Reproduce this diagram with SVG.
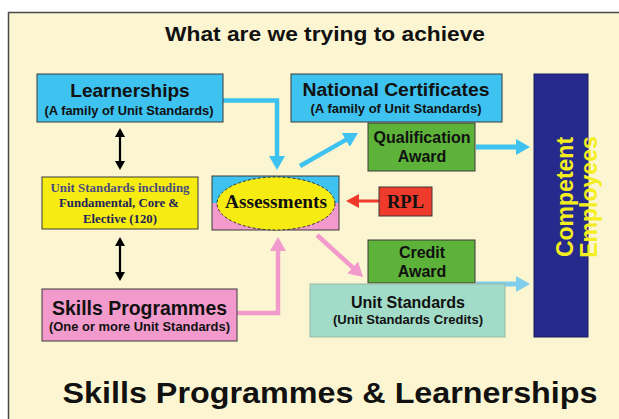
<svg xmlns="http://www.w3.org/2000/svg" width="619" height="419" viewBox="0 0 619 419">
  <style>
    .sans { font-family: "Liberation Sans", Arial, sans-serif; font-weight: bold; fill: #111; text-anchor: middle; }
    .serif { font-family: "Liberation Serif", "Times New Roman", serif; font-weight: bold; text-anchor: middle; }
    .box { stroke: #3a3a3a; stroke-width: 1; }
    .blue { fill: #3EC2EF; }
    .green { fill: #5DB33A; }
    .pink { fill: #F29ACB; }
    .conn { fill: none; }
  </style>
  <defs>
    <marker id="head-blue" viewBox="0 0 14 16" markerWidth="14" markerHeight="16" refX="1" refY="8" orient="auto" markerUnits="userSpaceOnUse">
      <path d="M0,0 L14,8 L0,16 z" fill="#3EC2EF"/>
    </marker>
    <marker id="head-lightblue" viewBox="0 0 14 16" markerWidth="14" markerHeight="16" refX="1" refY="8" orient="auto" markerUnits="userSpaceOnUse">
      <path d="M0,0 L14,8 L0,16 z" fill="#7FCFEC"/>
    </marker>
    <marker id="head-pink" viewBox="0 0 14 16" markerWidth="14" markerHeight="16" refX="1" refY="8" orient="auto" markerUnits="userSpaceOnUse">
      <path d="M0,0 L14,8 L0,16 z" fill="#F29ACB"/>
    </marker>
    <marker id="head-red" viewBox="0 0 13 14" markerWidth="13" markerHeight="14" refX="1" refY="7" orient="auto" markerUnits="userSpaceOnUse">
      <path d="M0,0 L13,7 L0,14 z" fill="#EE3B2B"/>
    </marker>
    <marker id="head-black" viewBox="0 0 9 10" markerWidth="9" markerHeight="10" refX="1" refY="5" orient="auto-start-reverse" markerUnits="userSpaceOnUse">
      <path d="M0,0 L9,5 L0,10 z" fill="#000"/>
    </marker>
  </defs>

  <!-- page -->
  <rect x="0" y="0" width="619" height="419" fill="#ffffff"/>
  <rect x="8.5" y="12.5" width="620" height="420" fill="#FBF6D1" stroke="#4a4a4a" stroke-width="1.5"/>

  <text class="sans" x="325" y="41" font-size="20" textLength="320" lengthAdjust="spacingAndGlyphs">What are we trying to achieve</text>

  <!-- connectors -->
  <g id="connectors">
    <path class="conn" d="M223,100.5 H277 V157" stroke="#3EC2EF" stroke-width="4.5" marker-end="url(#head-blue)"/>
    <path class="conn" d="M300,166 L346.7,139.4" stroke="#3EC2EF" stroke-width="4.5" marker-end="url(#head-blue)"/>
    <path class="conn" d="M476,147 H517" stroke="#3EC2EF" stroke-width="5" marker-end="url(#head-blue)"/>
    <path class="conn" d="M476,284 H517" stroke="#7FCFEC" stroke-width="5" marker-end="url(#head-lightblue)"/>
    <path class="conn" d="M379,201 H358" stroke="#EE3B2B" stroke-width="3" marker-end="url(#head-red)"/>
    <path class="conn" d="M237,313 H278 V250" stroke="#F29ACB" stroke-width="4.5" marker-end="url(#head-pink)"/>
    <path class="conn" d="M317,235 L353.4,268.2" stroke="#F29ACB" stroke-width="4.5" marker-end="url(#head-pink)"/>
    <path class="conn" d="M120,136 V162" stroke="#000" stroke-width="2.2" marker-start="url(#head-black)" marker-end="url(#head-black)"/>
    <path class="conn" d="M120,245 V273" stroke="#000" stroke-width="2.2" marker-start="url(#head-black)" marker-end="url(#head-black)"/>
  </g>

  <g id="learnerships">
    <rect class="box blue" x="37" y="74" width="186" height="48"/>
    <text class="sans" x="130" y="97" font-size="19">Learnerships</text>
    <text class="sans" x="129" y="115" font-size="12.5" textLength="169" lengthAdjust="spacingAndGlyphs">(A family of Unit Standards)</text>
  </g>

  <g id="national-certificates">
    <rect class="box blue" x="291" y="74" width="211" height="48"/>
    <text class="sans" x="396" y="96" font-size="19" textLength="187" lengthAdjust="spacingAndGlyphs">National Certificates</text>
    <text class="sans" x="396" y="113" font-size="13" textLength="171" lengthAdjust="spacingAndGlyphs">(A family of Unit Standards)</text>
  </g>

  <g id="qualification-award">
    <rect class="box green" x="368" y="123" width="107" height="48"/>
    <text class="sans" x="422" y="143" font-size="16" textLength="97" lengthAdjust="spacingAndGlyphs">Qualification</text>
    <text class="sans" x="422" y="162" font-size="16">Award</text>
  </g>

  <g id="unit-standards-including">
    <rect class="box" x="42" y="177" width="156" height="52" fill="#F7EC12"/>
    <text class="serif" x="120" y="192" font-size="13" fill="#4a4a80" textLength="139" lengthAdjust="spacingAndGlyphs">Unit Standards including</text>
    <text class="serif" x="119" y="207" font-size="13" fill="#23235a" textLength="120" lengthAdjust="spacingAndGlyphs">Fundamental, Core &amp;</text>
    <text class="serif" x="120" y="223" font-size="13" fill="#23235a" textLength="74" lengthAdjust="spacingAndGlyphs">Elective (120)</text>
  </g>

  <g id="assessments">
    <rect x="212" y="176" width="127" height="27" class="blue"/>
    <rect x="212" y="203" width="127" height="27" class="pink"/>
    <rect x="212" y="176" width="127" height="54" fill="none" stroke="#3a3a3a" stroke-width="1"/>
    <ellipse cx="276" cy="203.5" rx="59" ry="26.5" fill="#F7EC12" stroke="#333" stroke-width="1" stroke-dasharray="3 2"/>
    <text class="serif" x="276" y="208" font-size="18" fill="#111" textLength="102" lengthAdjust="spacingAndGlyphs">Assessments</text>
  </g>

  <g id="rpl">
    <rect class="box" x="379" y="187" width="53" height="29" fill="#EE3B2B"/>
    <text class="serif" x="405.5" y="208" font-size="18" fill="#111" textLength="37" lengthAdjust="spacingAndGlyphs">RPL</text>
  </g>

  <g id="credit-award">
    <rect class="box green" x="368" y="240" width="107" height="43"/>
    <text class="sans" x="422" y="258" font-size="16">Credit</text>
    <text class="sans" x="422" y="277" font-size="16">Award</text>
  </g>

  <g id="unit-standards-credits">
    <rect x="310" y="284" width="195" height="53" fill="#A2DCC8" stroke="#9ab8aa" stroke-width="1"/>
    <text class="sans" x="408" y="308" font-size="16" textLength="114" lengthAdjust="spacingAndGlyphs">Unit Standards</text>
    <text class="sans" x="408" y="324" font-size="12.5" textLength="150" lengthAdjust="spacingAndGlyphs">(Unit Standards Credits)</text>
  </g>

  <g id="skills-programmes">
    <rect class="box pink" x="42" y="289" width="195" height="52"/>
    <text class="sans" x="139.5" y="315" font-size="19.5" textLength="175" lengthAdjust="spacingAndGlyphs">Skills Programmes</text>
    <text class="sans" x="139.5" y="331" font-size="13" textLength="181" lengthAdjust="spacingAndGlyphs">(One or more Unit Standards)</text>
  </g>

  <g id="competent-employees">
    <rect x="534" y="74" width="54" height="263" fill="#262A8C" stroke="#1a1d60" stroke-width="1"/>
    <g transform="translate(573,197) rotate(-90)">
      <text class="sans" x="0" y="0" font-size="23" style="fill:#F5EE1E">Competent</text>
      <text class="sans" x="0" y="24" font-size="23" style="fill:#F5EE1E">Employees</text>
    </g>
  </g>

  <text class="sans" x="330" y="403" font-size="29" textLength="535" lengthAdjust="spacingAndGlyphs">Skills Programmes &amp; Learnerships</text>
</svg>
